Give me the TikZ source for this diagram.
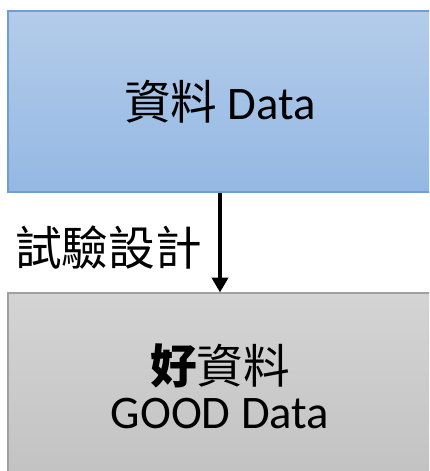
\documentclass[tikz,border=0pt]{standalone}
\usepackage{fontspec}
\setmainfont{Carlito}
\newfontfamily\cjk{Noto Sans CJK TC}
\usetikzlibrary{arrows.meta}
\definecolor{bluetop}{HTML}{B4CCEA}
\definecolor{bluebot}{HTML}{94B8E3}
\definecolor{blueedge}{HTML}{6E9DD8}
\definecolor{graytop}{HTML}{D4D4D4}
\definecolor{graybot}{HTML}{C2C2C2}
\definecolor{grayedge}{HTML}{A0A0A0}
\tikzset{
  bigtext/.style={font=\fontsize{35}{34}\selectfont, text=black},
  boxbase/.style={rectangle, line width=0.9pt, inner sep=0pt, align=center, bigtext},
  bluebox/.style={boxbase, draw=blueedge, top color=bluetop, bottom color=bluebot},
  graybox/.style={boxbase, draw=grayedge, top color=graytop, bottom color=graybot},
  flow/.style={line width=2.6pt, -{Triangle[width=12pt,length=11pt]}},
}
\begin{document}
\begin{tikzpicture}[x=0.75pt, y=-0.75pt]
\useasboundingbox (0,0) rectangle (429,471);
\clip (0,0) rectangle (429,471);
\node[bluebox, minimum width=424*0.75pt, minimum height=181*0.75pt] (top) at (220,101.5) {{\cjk 資料} Data};
\node[graybox, minimum width=424*0.75pt, minimum height=187*0.75pt] (bot) at (220,386.5) {{\cjk\bfseries 好}{\cjk 資料}\\GOOD Data};
\node[bigtext, anchor=east, inner sep=0pt] (lbl) at (202,248) {\cjk 試驗設計};
\draw[flow] (top.south) -- (bot.north);
\end{tikzpicture}
\end{document}
